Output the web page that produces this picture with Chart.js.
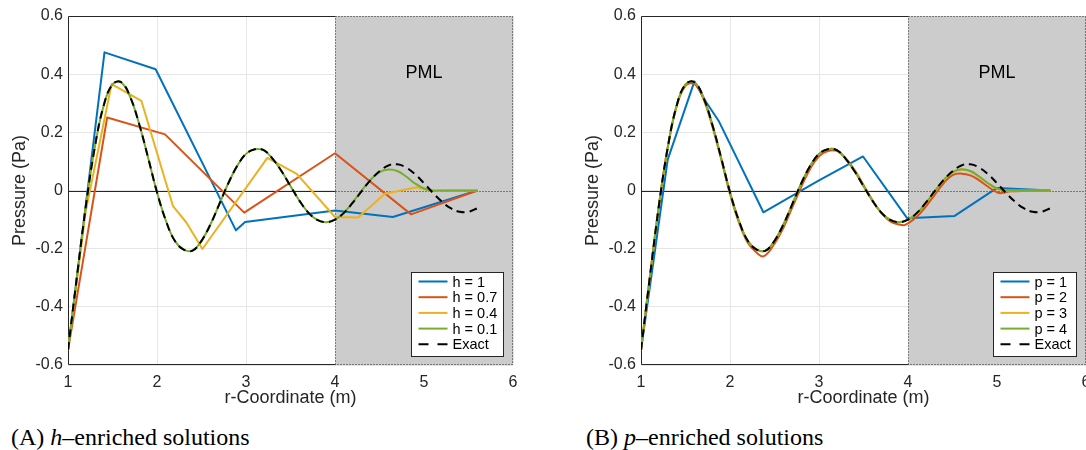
<!DOCTYPE html>
<html>
<head>
<meta charset="utf-8">
<script src="https://cdn.jsdelivr.net/npm/chart.js@4.4.1/dist/chart.umd.min.js"></script>
<style>
  html, body { margin: 0; padding: 0; background: #fff; }
  body { width: 1086px; height: 450px; overflow: hidden; position: relative; }
  canvas { position: absolute; top: 0; }
  #chartA { left: 0; }
  #chartB { left: 573px; }
  .cap { position: absolute; top: 425px; font-family: "Liberation Serif", "Times New Roman", serif;
         font-size: 24px; line-height: 24px; color: #000; white-space: nowrap; }
</style>
</head>
<body>
<canvas id="chartA" width="530" height="415"></canvas>
<canvas id="chartB" width="530" height="415"></canvas>
<div class="cap" style="left:11px">(A) <i>h</i>–enriched solutions</div>
<div class="cap" style="left:586px">(B) <i>p</i>–enriched solutions</div>
<script>
// axis ticks
const xTicks = [1, 2, 3, 4, 5, 6];
const yTicks = [-0.6, -0.4, -0.2, 0, 0.2, 0.4, 0.6];
const yTickLabels = ["-0.6", "-0.4", "-0.2", "0", "0.2", "0.4", "0.6"];
const pmlStart = 4;

// exact solution
const exactR = [1.0, 1.1, 1.2, 1.3, 1.4, 1.5, 1.6, 1.7, 1.8, 1.9, 2.0, 2.1, 2.2, 2.3, 2.4, 2.5, 2.6, 2.7, 2.8, 2.9,
  3.0, 3.1, 3.2, 3.3, 3.4, 3.5, 3.6, 3.7, 3.8, 3.9, 4.0, 4.1, 4.2, 4.3, 4.4, 4.5, 4.6, 4.7, 4.8, 4.9,
  5.0, 5.1, 5.2, 5.3, 5.4, 5.5, 5.6];
const exactP = [-0.549, -0.297, -0.055, 0.147, 0.291, 0.365, 0.372, 0.321, 0.228, 0.113,
  -0.006, -0.104, -0.173, -0.203, -0.207, -0.173, -0.117, -0.047, 0.024, 0.084,
  0.126, 0.142, 0.139, 0.109, 0.066, 0.015, -0.035, -0.076, -0.101, -0.109,
  -0.100, -0.077, -0.042, -0.002, 0.036, 0.066, 0.086, 0.090, 0.079, 0.056,
  0.025, -0.008, -0.038, -0.061, -0.073, -0.073, -0.061];

// (A) h-enriched
const h1R = [1.0, 1.41, 1.985, 2.887, 2.99, 4.0, 4.65, 5.6];
const h1P = [-0.549, 0.475, 0.417, -0.137, -0.108, -0.069, -0.091, 0.0];
const h07R = [1.0, 1.44, 2.09, 2.98, 4.0, 4.855, 5.6];
const h07P = [-0.549, 0.251, 0.193, -0.076, 0.128, -0.082, 0.0];
const h04R = [1.0, 1.2, 1.49, 1.825, 2.18, 2.33, 2.51, 3.24, 3.57, 4.0, 4.26, 4.56, 4.92, 5.07, 5.6];
const h04P = [-0.549, -0.07, 0.366, 0.308, -0.054, -0.11, -0.201, 0.112, 0.057, -0.091, -0.093, -0.011, 0.011, -0.001, 0.0];
const h01R = exactR;
const h01P = [-0.549, -0.297, -0.055, 0.147, 0.291, 0.365, 0.371, 0.320, 0.228, 0.113,
  -0.006, -0.104, -0.173, -0.203, -0.206, -0.173, -0.117, -0.047, 0.024, 0.084,
  0.126, 0.142, 0.138, 0.109, 0.066, 0.015, -0.035, -0.076, -0.101, -0.109,
  -0.100, -0.076, -0.040, 0.000, 0.037, 0.063, 0.072, 0.067, 0.048, 0.024,
  0.007, 0.000, 0.000, 0.000, 0.000, 0.000, 0.000];

// (B) p-enriched
const p1R = [1.0, 1.30, 1.60, 1.73, 1.877, 2.375, 2.99, 3.495, 3.99, 4.52, 5.0, 5.6];
const p1P = [-0.549, 0.106, 0.375, 0.305, 0.237, -0.075, 0.033, 0.117, -0.095, -0.088, 0.009, 0.0];
const p2R = [1.0, 1.1, 1.2, 1.3, 1.4, 1.5, 1.6, 1.7, 1.8, 1.9, 2.0, 2.1, 2.2, 2.3, 2.38, 2.5, 2.6, 2.7, 2.8, 2.9,
  3.0, 3.1, 3.2, 3.3, 3.4, 3.5, 3.6, 3.7, 3.8, 3.9, 3.97, 4.1, 4.2, 4.3, 4.4, 4.5, 4.6, 4.7, 4.8, 4.9,
  5.0, 5.05, 5.15, 5.6];
const p2P = [-0.549, -0.297, -0.055, 0.147, 0.290, 0.360, 0.366, 0.316, 0.222, 0.108,
  -0.012, -0.110, -0.180, -0.214, -0.226, -0.183, -0.128, -0.058, 0.012, 0.074,
  0.118, 0.136, 0.136, 0.111, 0.070, 0.019, -0.033, -0.077, -0.106, -0.117,
  -0.118, -0.090, -0.055, -0.015, 0.025, 0.053, 0.058, 0.052, 0.035, 0.013,
  -0.006, -0.009, -0.003, 0.0];
const p3R = exactR;
const p3P = [-0.549, -0.297, -0.055, 0.147, 0.291, 0.365, 0.372, 0.321, 0.228, 0.113,
  -0.006, -0.104, -0.173, -0.203, -0.207, -0.173, -0.117, -0.047, 0.024, 0.084,
  0.126, 0.142, 0.139, 0.109, 0.066, 0.015, -0.035, -0.076, -0.101, -0.109,
  -0.100, -0.079, -0.043, -0.004, 0.035, 0.062, 0.071, 0.066, 0.047, 0.024,
  0.006, -0.001, 0.000, 0.000, 0.000, 0.000, 0.000];
const p4R = exactR;
const p4P = [-0.549, -0.297, -0.055, 0.147, 0.291, 0.365, 0.372, 0.321, 0.228, 0.113,
  -0.006, -0.104, -0.173, -0.203, -0.207, -0.173, -0.117, -0.047, 0.024, 0.084,
  0.126, 0.142, 0.139, 0.109, 0.066, 0.015, -0.035, -0.076, -0.101, -0.109,
  -0.100, -0.079, -0.043, -0.003, 0.036, 0.063, 0.073, 0.067, 0.048, 0.025,
  0.007, 0.000, 0.000, 0.000, 0.000, 0.000, 0.000];

const BLUE = "#0072BD", ORANGE = "#D95319", YELLOW = "#EDB120", GREEN = "#77AC30";
const sans = '"Liberation Sans", Arial, Helvetica, sans-serif';

function pts(r, p) {
  return r.map((v, i) => ({ x: v, y: p[i] }));
}

function line(label, r, p, color, order, smooth) {
  return {
    label, data: pts(r, p), borderColor: color, borderWidth: 2, pointRadius: 0,
    tension: smooth ? 0.4 : 0, fill: false, order, borderJoinStyle: "round"
  };
}

function exactLine() {
  return {
    label: "Exact", data: pts(exactR, exactP), borderColor: "#000", borderWidth: 2,
    borderDash: [8, 5], legendDash: [10, 9], pointRadius: 0, tension: 0.4, fill: false, order: 0
  };
}

// gray PML region, box edges and zero line
const pmlPlugin = {
  id: "pml",
  beforeDatasetsDraw(chart) {
    const { ctx, chartArea: a, scales: { x, y } } = chart;
    const x4 = Math.round(x.getPixelForValue(pmlStart)) + 0.5;
    const x6 = Math.round(a.right) - 0.5;
    const left = Math.round(a.left) + 0.5;
    const top = Math.round(a.top) + 0.5;
    const bot = Math.round(a.bottom) - 0.5;
    const y0 = Math.round(y.getPixelForValue(0)) + 0.5;
    ctx.save();
    ctx.fillStyle = "#cccccc";
    ctx.fillRect(x4, a.top, a.right - x4, a.bottom - a.top);

    ctx.strokeStyle = "#262626";
    ctx.lineWidth = 1;
    ctx.beginPath();
    ctx.moveTo(x4, top); ctx.lineTo(left, top); ctx.lineTo(left, bot); ctx.lineTo(x4, bot);
    ctx.moveTo(left, y0); ctx.lineTo(x4, y0);
    ctx.stroke();

    ctx.setLineDash([1, 2]);
    ctx.strokeStyle = "#222";
    ctx.beginPath();
    ctx.moveTo(x4, top); ctx.lineTo(x6, top); ctx.lineTo(x6, bot); ctx.lineTo(x4, bot); ctx.lineTo(x4, top);
    ctx.moveTo(x4, y0); ctx.lineTo(x6, y0);
    ctx.stroke();
    ctx.setLineDash([]);

    ctx.fillStyle = "#000";
    ctx.font = "18px " + sans;
    ctx.textAlign = "center";
    ctx.textBaseline = "middle";
    ctx.fillText("PML", x.getPixelForValue(5), y.getPixelForValue(0.405));
    ctx.restore();
  }
};

// boxed legend in the lower right corner
const legendPlugin = {
  id: "boxLegend",
  afterDraw(chart) {
    const { ctx, chartArea: a } = chart;
    const sets = chart.data.datasets;
    ctx.save();
    ctx.font = "14.5px " + sans;
    const tw = Math.max(...sets.map(d => ctx.measureText(d.label).width));
    const w = Math.round(7 + 29 + 5 + tw + 6), h = 84;
    const bx = Math.round(a.right - 10 - w) + 0.5;
    const by = Math.round(a.bottom - 9 - h) + 0.5;
    ctx.fillStyle = "#fff";
    ctx.fillRect(bx, by, w, h);
    ctx.strokeStyle = "#262626";
    ctx.lineWidth = 1;
    ctx.strokeRect(bx, by, w, h);
    sets.forEach((d, i) => {
      const cy = by + 9 + i * 15.7;
      ctx.strokeStyle = d.borderColor;
      ctx.lineWidth = 2;
      ctx.setLineDash(d.legendDash || []);
      ctx.beginPath();
      ctx.moveTo(bx + 7, cy);
      ctx.lineTo(bx + 36, cy);
      ctx.stroke();
      ctx.setLineDash([]);
      ctx.fillStyle = "#000";
      ctx.textAlign = "left";
      ctx.textBaseline = "middle";
      ctx.fillText(d.label, bx + 41, cy + 1);
    });
    ctx.restore();
  }
};

function makeChart(id, datasets) {
  return new Chart(document.getElementById(id), {
    type: "line",
    data: { datasets },
    plugins: [pmlPlugin, legendPlugin],
    options: {
      responsive: false,
      animation: false,
      devicePixelRatio: 1,
      layout: { padding: { left: 0, right: 17, top: 16, bottom: 0 } },
      plugins: { legend: { display: false }, tooltip: { enabled: false } },
      scales: {
        x: {
          type: "linear", min: 1, max: 6,
          afterBuildTicks(s) { s.ticks = xTicks.map(v => ({ value: v })); },
          afterFit(s) { s.height = 50; },
          grid: { color: "#e6e6e6", drawTicks: false },
          border: { display: false },
          ticks: { padding: 8, maxRotation: 0, color: "#262626", font: { family: sans, size: 16 } },
          title: { display: true, text: "r-Coordinate (m)", color: "#262626",
                   font: { family: sans, size: 18 }, padding: { top: 0, bottom: 6 } }
        },
        y: {
          type: "linear", min: -0.6, max: 0.6,
          afterBuildTicks(s) { s.ticks = yTicks.map(v => ({ value: v })); },
          afterFit(s) { s.width = 68; },
          grid: { color: "#e6e6e6", drawTicks: false },
          border: { display: false },
          ticks: { padding: 5, color: "#262626", font: { family: sans, size: 16 },
                   callback: (v, i) => yTickLabels[i] },
          title: { display: true, text: "Pressure (Pa)", color: "#262626",
                   font: { family: sans, size: 18 }, padding: { top: 9, bottom: 0 } }
        }
      }
    }
  });
}

makeChart("chartA", [
  line("h = 1", h1R, h1P, BLUE, 4, false),
  line("h = 0.7", h07R, h07P, ORANGE, 3, false),
  line("h = 0.4", h04R, h04P, YELLOW, 2, false),
  line("h = 0.1", h01R, h01P, GREEN, 1, true),
  exactLine()
]);

makeChart("chartB", [
  line("p = 1", p1R, p1P, BLUE, 4, false),
  line("p = 2", p2R, p2P, ORANGE, 3, true),
  line("p = 3", p3R, p3P, YELLOW, 2, true),
  line("p = 4", p4R, p4P, GREEN, 1, true),
  exactLine()
]);
</script>
</body>
</html>
